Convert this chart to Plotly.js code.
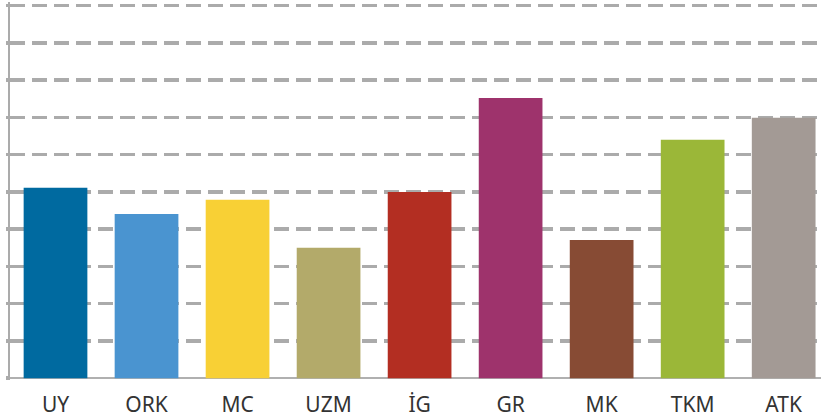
<!DOCTYPE html>
<html>
<head>
<meta charset="utf-8">
<script src="https://cdn.plot.ly/plotly-3.0.1.min.js"></script>
<style>html,body{margin:0;padding:0;background:#fff;}#chart{width:821px;height:420px;}</style>
</head>
<body>
<div id="chart"></div>
<script>
const categories = ["UY", "ORK", "MC", "UZM", "İG", "GR", "MK", "TKM", "ATK"];
const values = [5.11, 4.41, 4.79, 3.50, 5.00, 7.52, 3.71, 6.40, 6.99];
const colors = ["#006aa0", "#4a94d0", "#f8d035", "#b3aa6a", "#b32e22", "#9e336c", "#874b34", "#9bb738", "#a39a95"];
const yTicks = [0, 1, 2, 3, 4, 5, 6, 7, 8, 9, 10];

const trace = {
  type: "bar",
  x: categories.map((c, i) => i),
  y: values,
  marker: { color: colors, line: { width: 0 } },
  width: 0.70,
  hoverinfo: "skip"
};

const layout = {
  width: 821, height: 420,
  margin: { l: 10, r: 0, t: 2, b: 40, pad: 0 },
  paper_bgcolor: "#ffffff",
  plot_bgcolor: "#ffffff",
  showlegend: false,
  bargap: 0.3,
  xaxis: {
    range: [-0.5, 8.41],
    tickmode: "array",
    tickvals: categories.map((c, i) => i),
    ticktext: categories,
    showgrid: false,
    zeroline: false,
    showline: false,
    ticks: "",
    tickfont: { family: "Noto Sans, Open Sans, sans-serif", size: 21, color: "#333333" },
    ticklabelstandoff: 10
  },
  yaxis: {
    range: [-0.05, 10.1],
    tickmode: "array",
    tickvals: yTicks,
    showticklabels: false,
    showgrid: true,
    gridcolor: "#ababab",
    gridwidth: 3.5,
    griddash: "15px,7px",
    zeroline: true,
    zerolinecolor: "#b0b0b0",
    zerolinewidth: 2,
    showline: true,
    linecolor: "#ababab",
    linewidth: 2,
    ticks: "outside",
    ticklen: 2,
    tickcolor: "#ababab",
    tickwidth: 3.5
  }
};

Plotly.newPlot("chart", [trace], layout, { staticPlot: true, displayModeBar: false });
</script>
</body>
</html>
